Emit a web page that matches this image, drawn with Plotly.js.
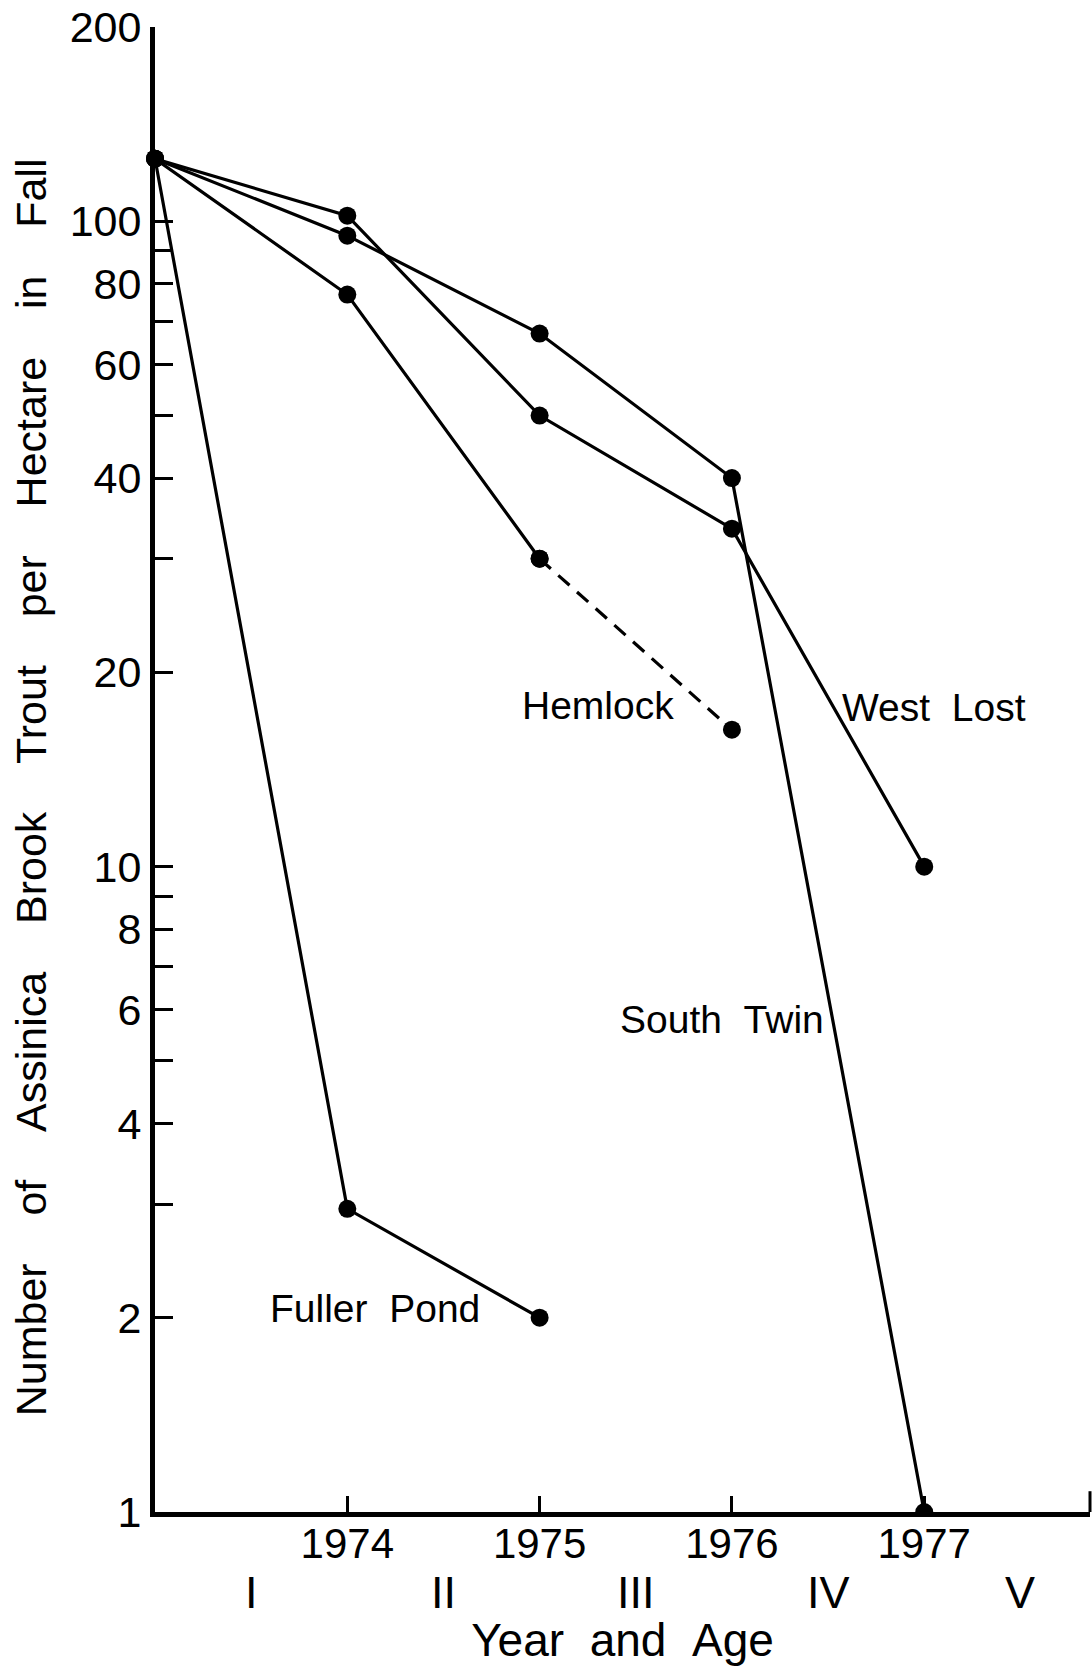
<!DOCTYPE html>
<html><head><meta charset="utf-8">
<script src="https://cdn.plot.ly/plotly-3.0.1.min.js"></script>
<style>html,body{margin:0;padding:0;background:#fff}</style>
</head><body>
<div id="chart" style="width:1092px;height:1666px"></div>
<script>
// ---- data ----
const years = [1973, 1974, 1975, 1976, 1977];
const westLost = [125, 102, 50, 33.4, 10];
const southTwin = [125, 95, 67, 40, 1];
const hemlockYears = [1973, 1974, 1975];
const hemlockSolid = [125, 77, 30];
const hemlockDashYears = [1975, 1976];
const hemlockDashed = [30, 16.3];
const fullerYears = [1973, 1974, 1975];
const fullerPond = [125, 2.95, 2];
const ageLabels = ['I', 'II', 'III', 'IV', 'V'];
const ageYears = [1973, 1974, 1975, 1976, 1977];
const xTickVals = [1974, 1975, 1976, 1977];
const xTickText = ['1974', '1975', '1976', '1977'];
const yTickVals = [1,2,3,4,5,6,7,8,9,10,20,30,40,50,60,70,80,90,100,200];
const yTickText = ['1','2','','4','','6','','8','','10','20','','40','','60','','80','','100','200'];
const seriesNames = ['Hemlock', 'West\u00a0\u00a0Lost', 'South\u00a0\u00a0Twin', 'Fuller\u00a0\u00a0Pond'];
const yTitleWords = ['Number','of','Assinica','Brook','Trout','per','Hectare','in','Fall'];
const xTitleWords = ['Year','and','Age'];

const FONT = 'Liberation Sans, Arial, Helvetica, sans-serif';
const nb = n => '\u00a0'.repeat(n);

function line(x, y, opts) {
  return Object.assign({
    x: x, y: y, type: 'scatter', mode: 'lines+markers',
    line: {color: '#000', width: 3.2},
    marker: {color: '#000', size: 18},
    cliponaxis: false, showlegend: false, hoverinfo: 'x+y'
  }, opts || {});
}

const traces = [
  line(years, westLost, {name: 'West Lost'}),
  line(years, southTwin, {name: 'South Twin', cliponaxis: true}),
  line(hemlockYears, hemlockSolid, {name: 'Hemlock'}),
  line(hemlockDashYears, hemlockDashed, {name: 'Hemlock', line: {color: '#000', width: 3.2, dash: '15px,10px'}}),
  line(fullerYears, fullerPond, {name: 'Fuller Pond'})
];

// label positions (data coords; y in log10 units)
const labelPos = [
  {x: 1975.306, y: 1.2496},
  {x: 1977.050, y: 1.2465},
  {x: 1975.947, y: 0.7631},
  {x: 1974.146, y: 0.3153}
];

const annotations = [];
seriesNames.forEach((n, i) => annotations.push({
  text: n, x: labelPos[i].x, y: labelPos[i].y, xref: 'x', yref: 'y',
  showarrow: false, xanchor: 'center', yanchor: 'middle',
  font: {family: FONT, size: 39, color: '#000'}
}));
ageLabels.forEach((a, i) => annotations.push({
  text: a, x: ageYears[i] + 0.5, y: 0, xref: 'x', yref: 'paper',
  showarrow: false, xanchor: 'center', yanchor: 'middle', yshift: -80,
  font: {family: FONT, size: 45, color: '#000'}
}));

const layout = {
  width: 1092, height: 1666,
  margin: {l: 155, r: 2, t: 27, b: 154},
  paper_bgcolor: '#fff', plot_bgcolor: '#fff',
  font: {family: FONT, color: '#000'},
  showlegend: false,
  xaxis: {
    range: [1973, 1977.862],
    showline: true, linewidth: 5, linecolor: '#000',
    ticks: 'inside', ticklen: 16, tickwidth: 3, tickcolor: '#000',
    tickmode: 'array', tickvals: xTickVals, ticktext: xTickText,
    tickfont: {family: FONT, size: 42, color: '#000'},
    ticklabelstandoff: -9,
    showgrid: false, zeroline: false,
    title: {text: xTitleWords.join(nb(2)), standoff: 68,
            font: {family: FONT, size: 46, color: '#000'}}
  },
  yaxis: {
    type: 'log', range: [0, Math.log10(200)],
    showline: true, linewidth: 5, linecolor: '#000',
    ticks: 'inside', ticklen: 18, tickwidth: 3, tickcolor: '#000',
    tickmode: 'array', tickvals: yTickVals, ticktext: yTickText,
    tickfont: {family: FONT, size: 43, color: '#000'},
    showgrid: false, zeroline: false,
    title: {text: yTitleWords.join(nb(4)) + nb(2) + '<span style="color:rgba(0,0,0,0)">.</span>',
            standoff: 11, font: {family: FONT, size: 43, color: '#000'}}
  },
  annotations: annotations,
  shapes: [{type: 'line', xref: 'paper', yref: 'paper', x0: 1, x1: 1, y0: 0, y1: 0.014,
            line: {color: '#000', width: 3}}]
};

Plotly.newPlot('chart', traces, layout, {displayModeBar: false, staticPlot: true});
</script>
</body></html>
